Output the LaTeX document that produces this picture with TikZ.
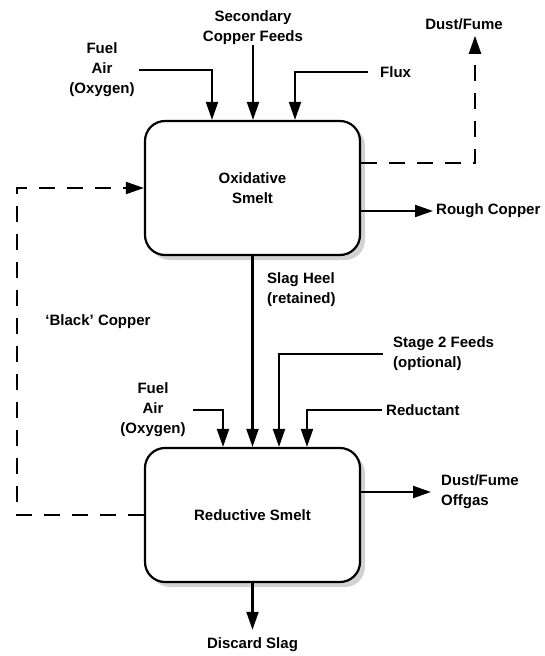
\documentclass[tikz,border=0pt]{standalone}
\usepackage{fontspec}
\setmainfont{Liberation Sans}
\usetikzlibrary{arrows.meta,shadows}
\begin{document}
\begin{tikzpicture}[x=1pt,y=-1pt,
  lbl/.style={font=\bfseries\fontsize{15}{20}\selectfont, inner sep=0pt, align=center},
  proc/.style={draw, line width=2.2pt, rounded corners=20pt, minimum width=215pt, minimum height=134pt,
    fill=white, drop shadow={shadow xshift=5pt,shadow yshift=-5pt,fill=gray!35,opacity=1},
    font=\bfseries\fontsize{15}{20}\selectfont, align=center},
  arr/.style={line width=2.1pt, -{Triangle[length=18pt,width=12pt]}},
  dsh/.style={dash pattern=on 16pt off 12pt}]
\useasboundingbox (0,0) rectangle (544,656);

\node[proc] (ox) at (252.5,188) {Oxidative\\Smelt};
\node[proc] (red) at (252.5,515) {Reductive Smelt};

\node[lbl] (fuel1) at (102,70) {Fuel\\Air\\(Oxygen)};
\node[lbl] (sec) at (253,28) {Secondary\\Copper Feeds};
\node[lbl, anchor=west] (flux) at (380,72) {Flux};
\node[lbl] (dust1) at (464,24) {Dust/Fume};
\node[lbl, anchor=west] (rough) at (436,211) {Rough Copper};
\node[lbl, anchor=west, align=left] (slag) at (267,290) {Slag Heel\\(retained)};
\node[lbl] (black) at (98,322) {‘Black’ Copper};
\node[lbl, anchor=west, align=left] (stage) at (393,354) {Stage 2 Feeds\\(optional)};
\node[lbl] (fuel2) at (153,410) {Fuel\\Air\\(Oxygen)};
\node[lbl, anchor=west] (redu) at (386,410) {Reductant};
\node[lbl, anchor=west, align=left] (off) at (441,492) {Dust/Fume\\Offgas};
\node[lbl] (disc) at (252.5,645) {Discard Slag};

\draw[arr] ([xshift=4pt]fuel1.east) -| ([xshift=-40.5pt]ox.north);
\draw[arr] (sec.south) -- (sec.south |- ox.north);
\draw[arr] ([xshift=-12pt]flux.west) -| ([xshift=42.5pt]ox.north);
\draw[arr,dsh] ([yshift=25pt]ox.east) -| ([xshift=11pt,yshift=-6pt]dust1.south);
\draw[arr] ([yshift=-23pt]ox.east) -- ([xshift=-3pt]rough.west);
\draw[arr] (ox.south) -- (red.north);
\coordinate (bc) at (17,188);
\draw[arr,dsh] (red.west) -| (bc) -- (ox.west);
\draw[arr] ([xshift=7pt]fuel2.east) -| ([xshift=-29.5pt]red.north);
\draw[arr] ([xshift=-10pt]stage.west) -| ([xshift=26.5pt]red.north);
\draw[arr] ([xshift=-4pt]redu.west) -| ([xshift=54.5pt]red.north);
\draw[arr] ([yshift=23pt]red.east) -- ([xshift=-10pt]off.west);
\draw[arr] (red.south) -- ([yshift=8pt]disc.north);
\end{tikzpicture}
\end{document}
